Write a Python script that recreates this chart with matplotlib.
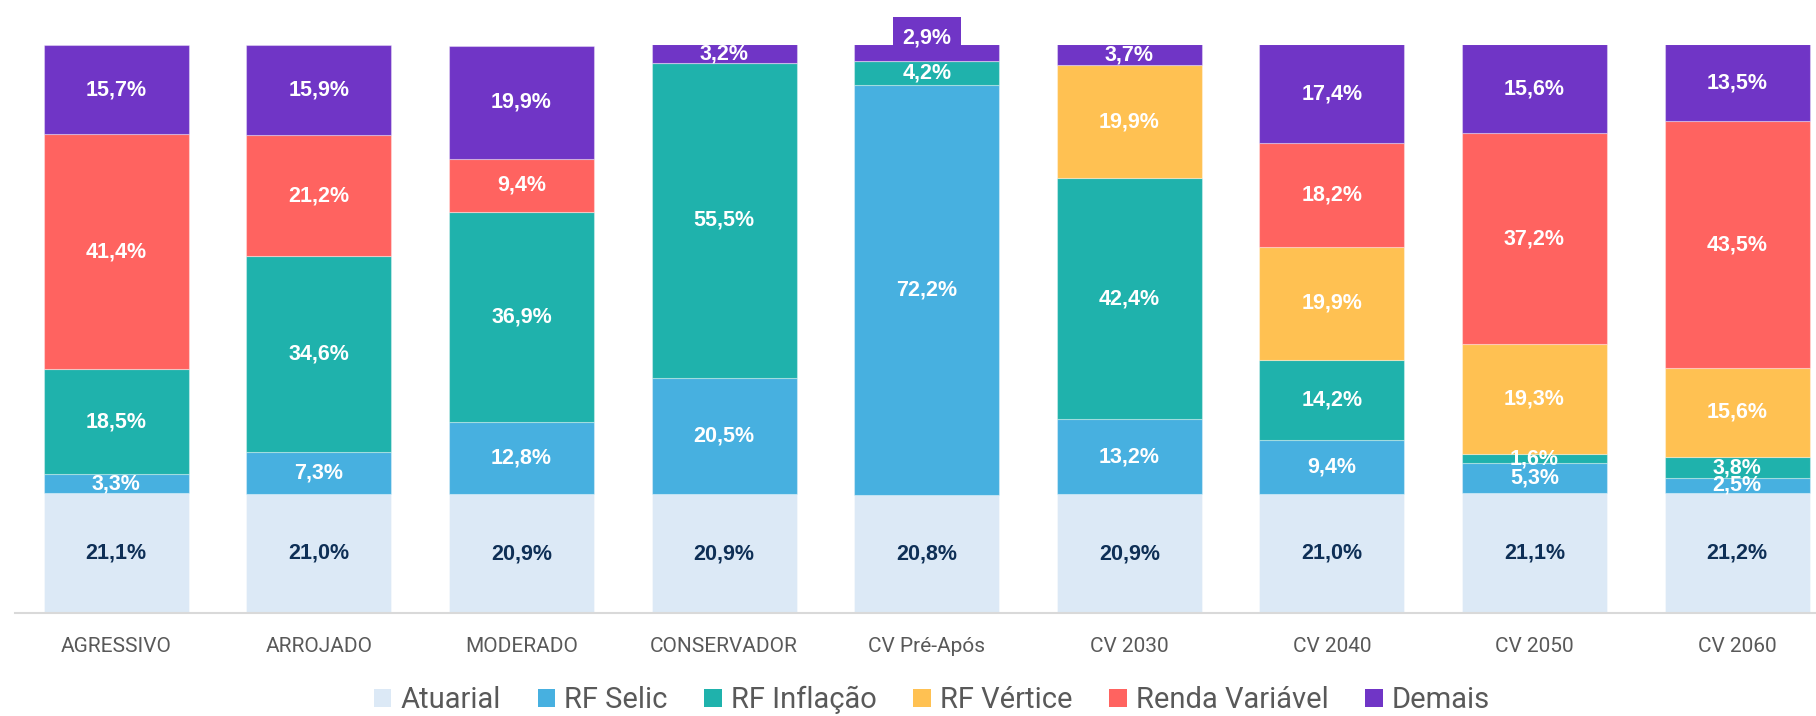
import matplotlib
matplotlib.use("Agg")
import matplotlib.pyplot as plt
import numpy as np

categories = ["AGRESSIVO", "ARROJADO", "MODERADO", "CONSERVADOR", "CV Pré-Após",
              "CV 2030", "CV 2040", "CV 2050", "CV 2060"]
series_names = ["Atuarial", "RF Selic", "RF Inflação", "RF Vértice", "Renda Variável", "Demais"]

atuarial = [21.1, 21.0, 20.9, 20.9, 20.8, 20.9, 21.0, 21.1, 21.2]
rf_selic = [3.3, 7.3, 12.8, 20.5, 72.2, 13.2, 9.4, 5.3, 2.5]
rf_inflacao = [18.5, 34.6, 36.9, 55.5, 4.2, 42.4, 14.2, 1.6, 3.8]
rf_vertice = [0, 0, 0, 0, 0, 19.9, 19.9, 19.3, 15.6]
renda_variavel = [41.4, 21.2, 9.4, 0, 0, 0, 18.2, 37.2, 43.5]
demais = [15.7, 15.9, 19.9, 3.2, 2.9, 3.7, 17.4, 15.6, 13.5]

series = [atuarial, rf_selic, rf_inflacao, rf_vertice, renda_variavel, demais]

COLORS = {
    "Atuarial": "#DCE9F6",
    "RF Selic": "#47B0E0",
    "RF Inflação": "#1FB2AC",
    "RF Vértice": "#FFC152",
    "Renda Variável": "#FF6360",
    "Demais": "#7035C6",
}
TEXT_GRAY = "#595959"
DARK_LABEL = "#0E2F56"

W, H = 1816, 716
fig = plt.figure(figsize=(W / 100, H / 100), dpi=100)
fig.patch.set_facecolor("white")

# axes placed in pixels: baseline at y=613, 100% at y=45, first bar centre at x=116.5
pitch = 202.6
x_left = 15.0
ax = fig.add_axes([x_left / W, (H - 613) / H, (W - x_left) / W, (613 - 45) / H])
ax.set_xlim(-0.5, -0.5 + (W - x_left) / pitch)
ax.set_ylim(0, 100)

x = np.arange(len(categories))
bottom = np.zeros(len(categories))
for name, vals in zip(series_names, series):
    vals = np.array(vals, dtype=float)
    ax.bar(x, vals, bottom=bottom, width=0.716, color=COLORS[name],
           edgecolor=(1, 1, 1, 0.35), linewidth=0.8, label=name, zorder=2)
    for i, v in enumerate(vals):
        if v <= 0:
            continue
        txt = f"{v:.1f}%".replace(".", ",")
        color = DARK_LABEL if name == "Atuarial" else "white"
        yc = bottom[i] + v / 2
        kw = {}
        # tiny top segment of CV Pré-Após gets its label lifted in a box
        if name == "Demais" and v < 3.0:
            yc = bottom[i] + v + 1.2
            kw = dict(bbox=dict(boxstyle="square,pad=0.45", facecolor=COLORS[name],
                                edgecolor="none"))
        ax.text(x[i], yc, txt, ha="center", va="center", color=color,
                fontsize=15.5, fontweight="bold", family=["Liberation Sans", "DejaVu Sans"],
                zorder=3, clip_on=False, **kw)
    bottom += vals

for s in ["top", "right", "left"]:
    ax.spines[s].set_visible(False)
ax.spines["bottom"].set_color("#D9D9D9")
ax.spines["bottom"].set_linewidth(1.5)
ax.set_yticks([])
ax.set_xticks(x)
ax.set_xticklabels(categories, fontsize=15, color=TEXT_GRAY, family=["Roboto", "DejaVu Sans"])
ax.tick_params(axis="x", length=0, pad=17)

handles, labels = ax.get_legend_handles_labels()
leg = fig.legend(handles, labels, loc="center", bbox_to_anchor=(932 / W, 1 - 700 / H),
                 ncol=6, frameon=False, handlelength=0.6, handleheight=0.6,
                 handletextpad=0.32, columnspacing=1.25,
                 prop={"family": ["Roboto", "DejaVu Sans"], "size": 21})
for t in leg.get_texts():
    t.set_color(TEXT_GRAY)
for h in leg.legend_handles:
    h.set_edgecolor("none")

fig.savefig("out.png", dpi=100, facecolor="white")
